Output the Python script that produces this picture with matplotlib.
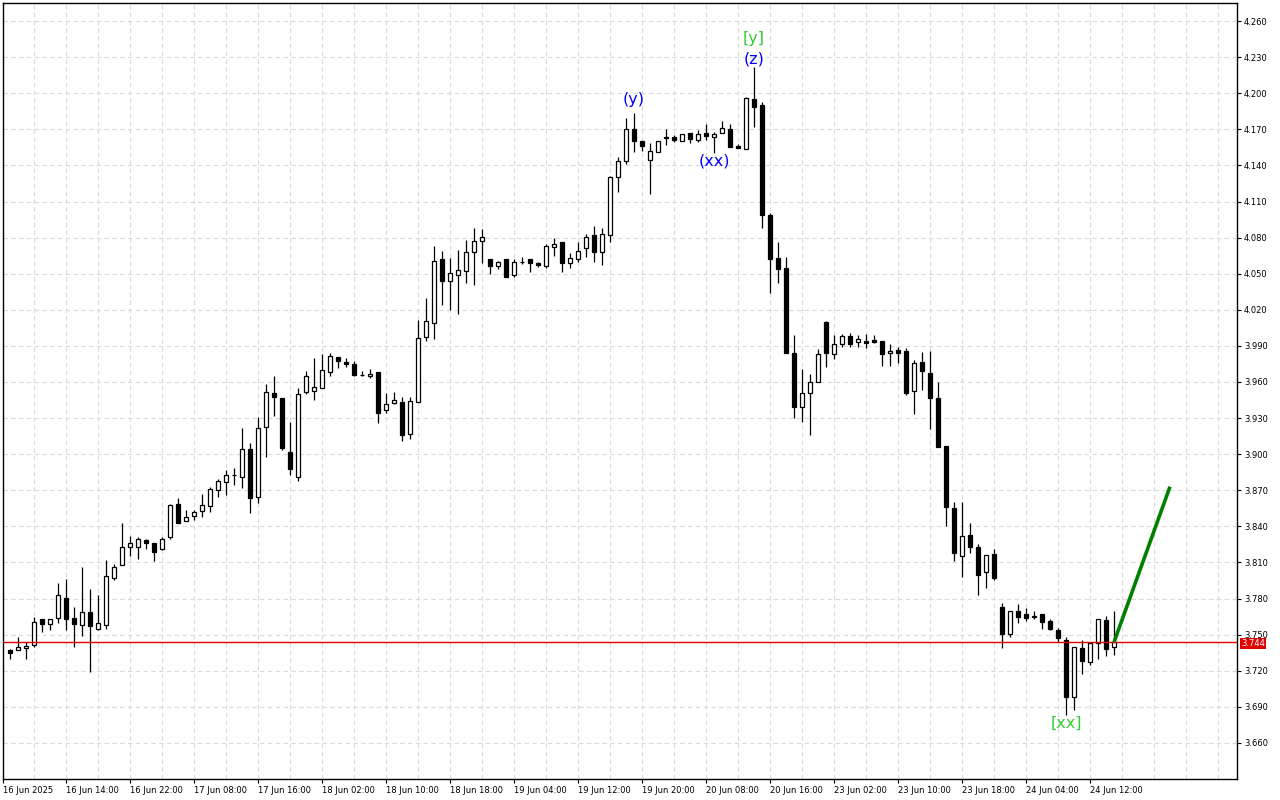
import matplotlib
matplotlib.use("Agg")
import matplotlib.pyplot as plt
from matplotlib.patches import Rectangle
import numpy as np

# hourly OHLC
opens = [3.737, 3.737, 3.7386, 3.7414, 3.7628, 3.7587, 3.7636, 3.7802, 3.7636, 3.7578,
         3.7686, 3.7547, 3.758, 3.7969, 3.8077, 3.8231, 3.8226, 3.8287, 3.826, 3.8209,
         3.8314, 3.8586, 3.8447, 3.8486, 3.8524, 3.857, 3.8702, 3.8766, 3.8823, 3.8813,
         3.904, 3.8647, 3.9223, 3.9511, 3.9464, 3.9017, 3.881, 3.9514, 3.9528, 3.9548,
         3.968, 3.9805, 3.9764, 3.9747, 3.9659, 3.965, 3.968, 3.9367, 3.9426, 3.9436,
         3.9168, 3.9436, 3.9976, 4.0088, 4.0622, 4.0442, 4.0487, 4.0525, 4.0683, 4.0774,
         4.0621, 4.0562, 4.062, 4.0489, 4.060, 4.062, 4.0587, 4.0564, 4.0722, 4.0761,
         4.0587, 4.062, 4.0711, 4.0821, 4.0683, 4.0821, 4.1301, 4.1436, 4.1699, 4.1602,
         4.1444, 4.1509, 4.163, 4.1636, 4.1602, 4.1666, 4.1608, 4.1671, 4.1633, 4.1667,
         4.170, 4.1564, 4.1534, 4.1952, 4.1902, 4.0988, 4.0628, 4.0545, 3.9839, 3.939,
         3.9512, 3.9602, 4.0101, 3.983, 3.9913, 3.9982, 3.9934, 3.9941, 3.9949, 3.9941,
         3.9839, 3.9866, 3.9857, 3.9528, 3.9764, 3.9676, 3.9465, 3.9068, 3.855, 3.8156,
         3.8326, 3.8229, 3.8017, 3.8172, 3.7728, 3.7504, 3.770, 3.7672, 3.765, 3.7672,
         3.7616, 3.7539, 3.7456, 3.6985, 3.7387, 3.7276, 3.7434, 3.7622, 3.7395]
highs = [3.738, 3.748, 3.7442, 3.7645, 3.7628, 3.7628, 3.7932, 3.796, 3.7728, 3.8065,
         3.7877, 3.7826, 3.812, 3.8088, 3.8431, 3.832, 3.8309, 3.8292, 3.826, 3.8314,
         3.8586, 3.8633, 3.8536, 3.8536, 3.8669, 3.873, 3.8791, 3.8869, 3.8883, 3.9215,
         3.9096, 3.9311, 3.9583, 3.965, 3.9464, 3.927, 3.9547, 3.9691, 3.9797, 3.9833,
         3.9838, 3.9805, 3.9797, 3.9777, 3.9691, 3.9705, 3.968, 3.9506, 3.9514, 3.9473,
         3.9473, 4.0115, 4.0296, 4.073, 4.0689, 4.0628, 4.0697, 4.078, 4.0877, 4.0871,
         4.0621, 4.0606, 4.062, 4.062, 4.0636, 4.062, 4.060, 4.0747, 4.0794, 4.0761,
         4.0669, 4.0766, 4.083, 4.0896, 4.0882, 4.1312, 4.1467, 4.1796, 4.1835, 4.1602,
         4.1586, 4.1599, 4.1702, 4.165, 4.1658, 4.1671, 4.1692, 4.1741, 4.168, 4.1769,
         4.1742, 4.1575, 4.1971, 4.222, 4.1924, 4.1005, 4.0766, 4.0641, 3.9991, 3.9706,
         3.9667, 3.9871, 4.0109, 3.9991, 3.9999, 4.0005, 3.999, 3.9999, 3.9991, 3.9941,
         3.9916, 3.9889, 3.988, 3.9783, 3.9847, 3.9857, 3.9603, 3.9068, 3.8604, 3.8604,
         3.8424, 3.8251, 3.8164, 3.8214, 3.7761, 3.770, 3.7755, 3.7719, 3.770, 3.7672,
         3.7628, 3.7553, 3.7478, 3.7395, 3.7456, 3.7442, 3.7628, 3.7655, 3.7697]
lows = [3.730, 3.737, 3.7296, 3.7395, 3.7525, 3.7539, 3.760, 3.7539, 3.7395, 3.7489,
        3.7192, 3.7539, 3.755, 3.7955, 3.8077, 3.8157, 3.8127, 3.8209, 3.8116, 3.8204,
        3.8292, 3.8431, 3.8447, 3.8453, 3.848, 3.8522, 3.8647, 3.8661, 3.8744, 3.8717,
        3.8514, 3.8597, 3.8974, 3.9317, 3.9035, 3.8829, 3.8777, 3.9498, 3.945, 3.9548,
        3.965, 3.9714, 3.9727, 3.965, 3.965, 3.9631, 3.9262, 3.9339, 3.9417, 3.9112,
        3.9124, 3.9436, 3.9943, 3.9955, 4.0242, 4.0197, 4.0166, 4.0425, 4.0405, 4.0593,
        4.0499, 4.0542, 4.0476, 4.047, 4.0581, 4.0514, 4.0553, 4.0545, 4.0647, 4.0516,
        4.0545, 4.060, 4.0636, 4.060, 4.0572, 4.0766, 4.1181, 4.1413, 4.1513, 4.1519,
        4.116, 4.1509, 4.1569, 4.1594, 4.1602, 4.1583, 4.1594, 4.1608, 4.1505, 4.1667,
        4.1555, 4.1547, 4.1534, 4.1722, 4.0877, 4.0342, 4.042, 3.9844, 3.9298, 3.927,
        3.916, 3.9602, 3.9727, 3.9788, 3.9893, 3.9889, 3.9889, 3.988, 3.9922, 3.9736,
        3.9736, 3.9756, 3.9492, 3.9334, 3.9533, 3.9207, 3.9058, 3.8403, 3.8114, 3.7979,
        3.8177, 3.7826, 3.7884, 3.7955, 3.7392, 3.7483, 3.7595, 3.7614, 3.7631, 3.7547,
        3.7539, 3.7442, 3.6833, 3.6874, 3.7173, 3.7248, 3.7296, 3.7326, 3.7331]
closes = [3.735, 3.7395, 3.7403, 3.7603, 3.7587, 3.7628, 3.783, 3.7628, 3.7587, 3.7686,
          3.757, 3.7597, 3.7985, 3.8065, 3.8226, 3.826, 3.8292, 3.826, 3.819, 3.8292,
          3.8578, 3.8431, 3.848, 3.8517, 3.8574, 3.8711, 3.8777, 3.8824, 3.8827, 3.904,
          3.8633, 3.9215, 3.9514, 3.9473, 3.9049, 3.8873, 3.950, 3.965, 3.9556, 3.970,
          3.9816, 3.9777, 3.975, 3.966, 3.9656, 3.9666, 3.9345, 3.9417, 3.9448, 3.9159,
          3.9444, 3.9963, 4.0107, 4.0605, 4.0442, 4.0503, 4.0531, 4.0678, 4.0774, 4.0807,
          4.0561, 4.0598, 4.0476, 4.060, 4.0598, 4.0587, 4.0572, 4.073, 4.0747, 4.0591,
          4.0628, 4.0691, 4.0807, 4.0683, 4.083, 4.1301, 4.1437, 4.1699, 4.1602, 4.1561,
          4.1522, 4.1599, 4.1633, 4.1608, 4.1658, 4.1616, 4.1658, 4.1644, 4.1658, 4.1708,
          4.1555, 4.1547, 4.1958, 4.1888, 4.0988, 4.062, 4.0537, 3.9844, 3.9395, 3.9506,
          3.9603, 3.9836, 3.9839, 3.9913, 3.9985, 3.9913, 3.9957, 3.9927, 3.9933, 3.983,
          3.9859, 3.9844, 3.9511, 3.9756, 3.9694, 3.9468, 3.9058, 3.8561, 3.8176, 3.8323,
          3.8229, 3.7996, 3.8164, 3.797, 3.7504, 3.770, 3.765, 3.7641, 3.7653, 3.7603,
          3.7545, 3.747, 3.6985, 3.7395, 3.7284, 3.7429, 3.7628, 3.7381, 3.7437]

time_labels = ["16 Jun 2025", "16 Jun 14:00", "16 Jun 22:00", "17 Jun 08:00", "17 Jun 16:00",
               "18 Jun 02:00", "18 Jun 10:00", "18 Jun 18:00", "19 Jun 04:00", "19 Jun 12:00",
               "19 Jun 20:00", "20 Jun 08:00", "20 Jun 16:00", "23 Jun 02:00", "23 Jun 10:00",
               "23 Jun 18:00", "24 Jun 04:00", "24 Jun 12:00"]

bid_price = 3.744
target_bar = 145
target_price = 3.873

# wave labels: (bar, text, anchored to 'high' or 'low', colour, offset px)
wave_labels = [(78, "(y)", "high", "#0000FF", 14),
               (93, "(z)", "high", "#0000FF", 8),
               (93, "[y]", "high", "#32CD32", 28),
               (88, "(xx)", "low", "#0000FF", 8),
               (132, "[xx]", "low", "#32CD32", 8)]

n = len(closes)
idx = np.arange(n)

W, H = 1280, 800
fig = plt.figure(figsize=(W / 100, H / 100), dpi=100)
ax = fig.add_axes([3 / W, 21 / H, 1234 / W, 776 / H])
ax.set_xlim(-0.875, 153.375)
ax.set_ylim(3.630, 4.275)

yticks = np.round(np.arange(3.660, 4.2601, 0.030), 3)
grid_kw = dict(color="#d9d9d9", lw=0.8, linestyle=(0, (4, 3)), zorder=0)
for yv in yticks:
    ax.axhline(yv, **grid_kw)
for xv in range(3, 154, 4):
    ax.axvline(xv, **grid_kw)

# candles
for i in idx:
    o, h, l, c = opens[i], highs[i], lows[i], closes[i]
    ax.vlines(i, l, h, color="black", lw=0.9, zorder=2)
    bull = c >= o
    ax.add_patch(Rectangle((i - 0.3, min(o, c)), 0.6, abs(c - o),
                           facecolor="white" if bull else "black",
                           edgecolor="black", lw=0.9, zorder=3))

ax.axhline(bid_price, color="#E00000", lw=1, zorder=4)
ax.plot([n - 1, target_bar], [closes[-1], target_price], color="#008000", lw=2.6,
        solid_capstyle="butt", zorder=5)

for bar, txt, side, col, off in wave_labels:
    y = highs[bar] if side == "high" else lows[bar]
    dy = off * 0.72 if side == "high" else -off * 0.72
    ax.annotate(txt, (bar, y), xytext=(0, dy), textcoords="offset points",
                ha="center", va="center", color=col, fontsize=11.5, zorder=6)

# axes
ax.yaxis.tick_right()
ax.set_yticks(yticks)
ax.set_yticklabels([f"{v:.3f}" for v in yticks])
ax.tick_params(axis="y", length=3, width=0.8, labelsize=6, pad=2)
xt = [ax.get_xlim()[0]] + list(range(7, 7 + 8 * (len(time_labels) - 1), 8))
ax.set_xticks(xt)
ax.set_xticklabels(time_labels, ha="left")
ax.tick_params(axis="x", length=3, width=0.8, labelsize=6, pad=2)
for s in ax.spines.values():
    s.set_linewidth(1)

ax.annotate(f"{bid_price:.3f}", xy=(1, bid_price), xycoords=("axes fraction", "data"),
            xytext=(3, -1), textcoords="offset points", ha="left", va="center",
            color="white", fontsize=6, zorder=10, annotation_clip=False,
            bbox=dict(boxstyle="square,pad=0.12", fc="#E00000", ec="none"))

fig.savefig("out.png", dpi=100)
